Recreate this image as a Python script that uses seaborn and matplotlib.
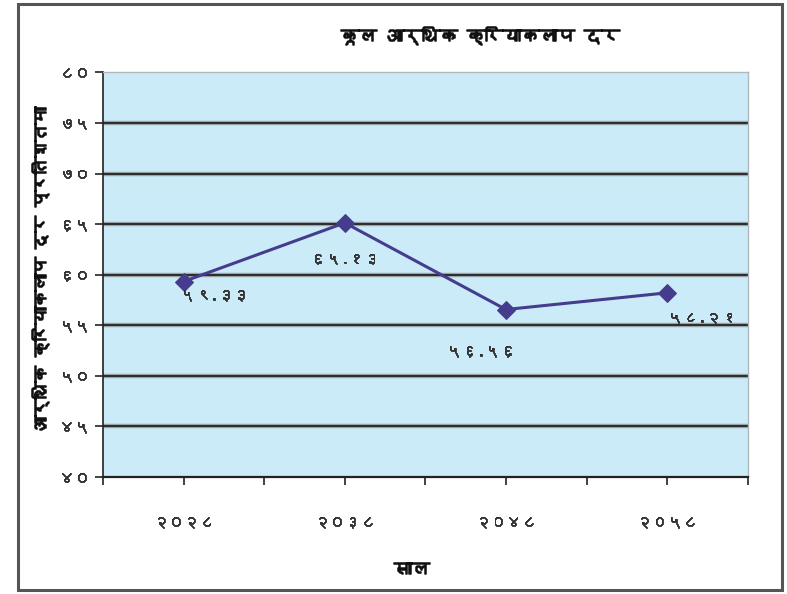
import matplotlib
matplotlib.use("Agg")
import matplotlib.pyplot as plt
import matplotlib.patheffects as pe
import seaborn as sns
import pandas as pd
from matplotlib import font_manager
from matplotlib.patches import Rectangle

# Data
years = ["२०२८", "२०३८", "२०४८", "२०५८"]
rates = [59.33, 65.13, 56.56, 58.21]
rate_labels = ["५९.३३", "६५.१३", "५६.५६", "५८.२१"]
y_ticks = [40, 45, 50, 55, 60, 65, 70, 75, 80]
y_tick_labels = ["४०", "४५", "५०", "५५", "६०", "६५", "७०", "७५", "८०"]
title = "कूल आर्थिक क्रियाकलाप दर"
x_title = "साल"
y_title = "आर्थिक क्रियाकलाप दर प्रतिशतमा"


def find_devanagari_font():
    # look for any installed font that has Devanagari glyphs
    try:
        from fontTools.ttLib import TTFont
    except ImportError:
        return None
    for f in font_manager.fontManager.ttflist:
        try:
            cmap = TTFont(f.fname, fontNumber=0, lazy=True).getBestCmap()
        except Exception:
            continue
        if cmap and 0x0915 in cmap and 0x0966 in cmap:
            return f.name
    return None


sns.set_theme(style="white")
deva = find_devanagari_font()
families = [deva, "DejaVu Sans"] if deva else ["DejaVu Sans"]
plt.rcParams["font.family"] = families

# fake bold, the Devanagari face has no bold weight
bold = [pe.withStroke(linewidth=1.1, foreground="#111111")]
semi = [pe.withStroke(linewidth=0.6, foreground="#333333")]

df = pd.DataFrame({"pos": range(1, len(years) + 1), "rate": rates})

fig = plt.figure(figsize=(7.87, 5.94), dpi=100)
ax = fig.add_axes([0.131, 0.197, 0.819, 0.681])
ax.set_facecolor("#CBEBF8")

# horizontal grid lines
for v in y_ticks[1:-1]:
    ax.axhline(v, color="#9aa3a8", lw=3.2, zorder=1)
    ax.axhline(v, color="#2b2b2b", lw=1.4, zorder=1)

sns.lineplot(data=df, x="pos", y="rate", ax=ax, color="#463C8E", lw=2.2,
             marker="D", markersize=9, markeredgecolor="#463C8E", zorder=3)

offsets = [(22, -10), (0, -26), (-18, -30), (25, -18)]
for x, y, lab, off in zip(df["pos"], df["rate"], rate_labels, offsets):
    ax.annotate(lab, (x, y), xytext=off, textcoords="offset points",
                ha="center", va="center", fontsize=11, color="#333333",
                path_effects=semi)

ax.set_xlim(0.5, 4.5)
ax.set_ylim(40, 80)
ax.set_yticks(y_ticks)
ax.set_yticklabels(y_tick_labels, fontsize=11)
for t in ax.get_yticklabels():
    t.set_path_effects(semi)
ax.set_xticks([0.5 + 0.5 * i for i in range(9)])
ax.set_xticklabels([""] * 9)
for x, lab in zip(df["pos"], years):
    ax.text(x, -0.112, lab, transform=ax.get_xaxis_transform(),
            ha="center", va="center", fontsize=11, color="#333333",
            path_effects=semi)
ax.tick_params(axis="both", direction="out", length=6, width=1.2,
               color="#222222", labelcolor="#333333", left=True, bottom=True)
ax.set_xlabel("")
ax.set_ylabel("")

for side in ["top", "right"]:
    ax.spines[side].set_color("#b0b8bd")
    ax.spines[side].set_linewidth(1.0)
ax.spines["left"].set_color("#222222")
ax.spines["bottom"].set_color("#222222")
ax.spines["left"].set_linewidth(1.2)
ax.spines["bottom"].set_linewidth(1.6)

fig.text(0.61, 0.941, title, ha="center", va="center", fontsize=13,
         color="#111111", path_effects=bold)
fig.text(0.523, 0.04, x_title, ha="center", va="center", fontsize=13,
         color="#111111", path_effects=bold)
fig.text(0.051, 0.545, y_title, ha="center", va="center", fontsize=12,
         rotation=90, color="#111111", path_effects=bold)

# outer chart border
fig.patches.append(Rectangle((0.023, 0.007), 0.971, 0.986, transform=fig.transFigure,
                             fill=False, edgecolor="#555555", lw=2.2))

fig.savefig("out.png", dpi=100)
